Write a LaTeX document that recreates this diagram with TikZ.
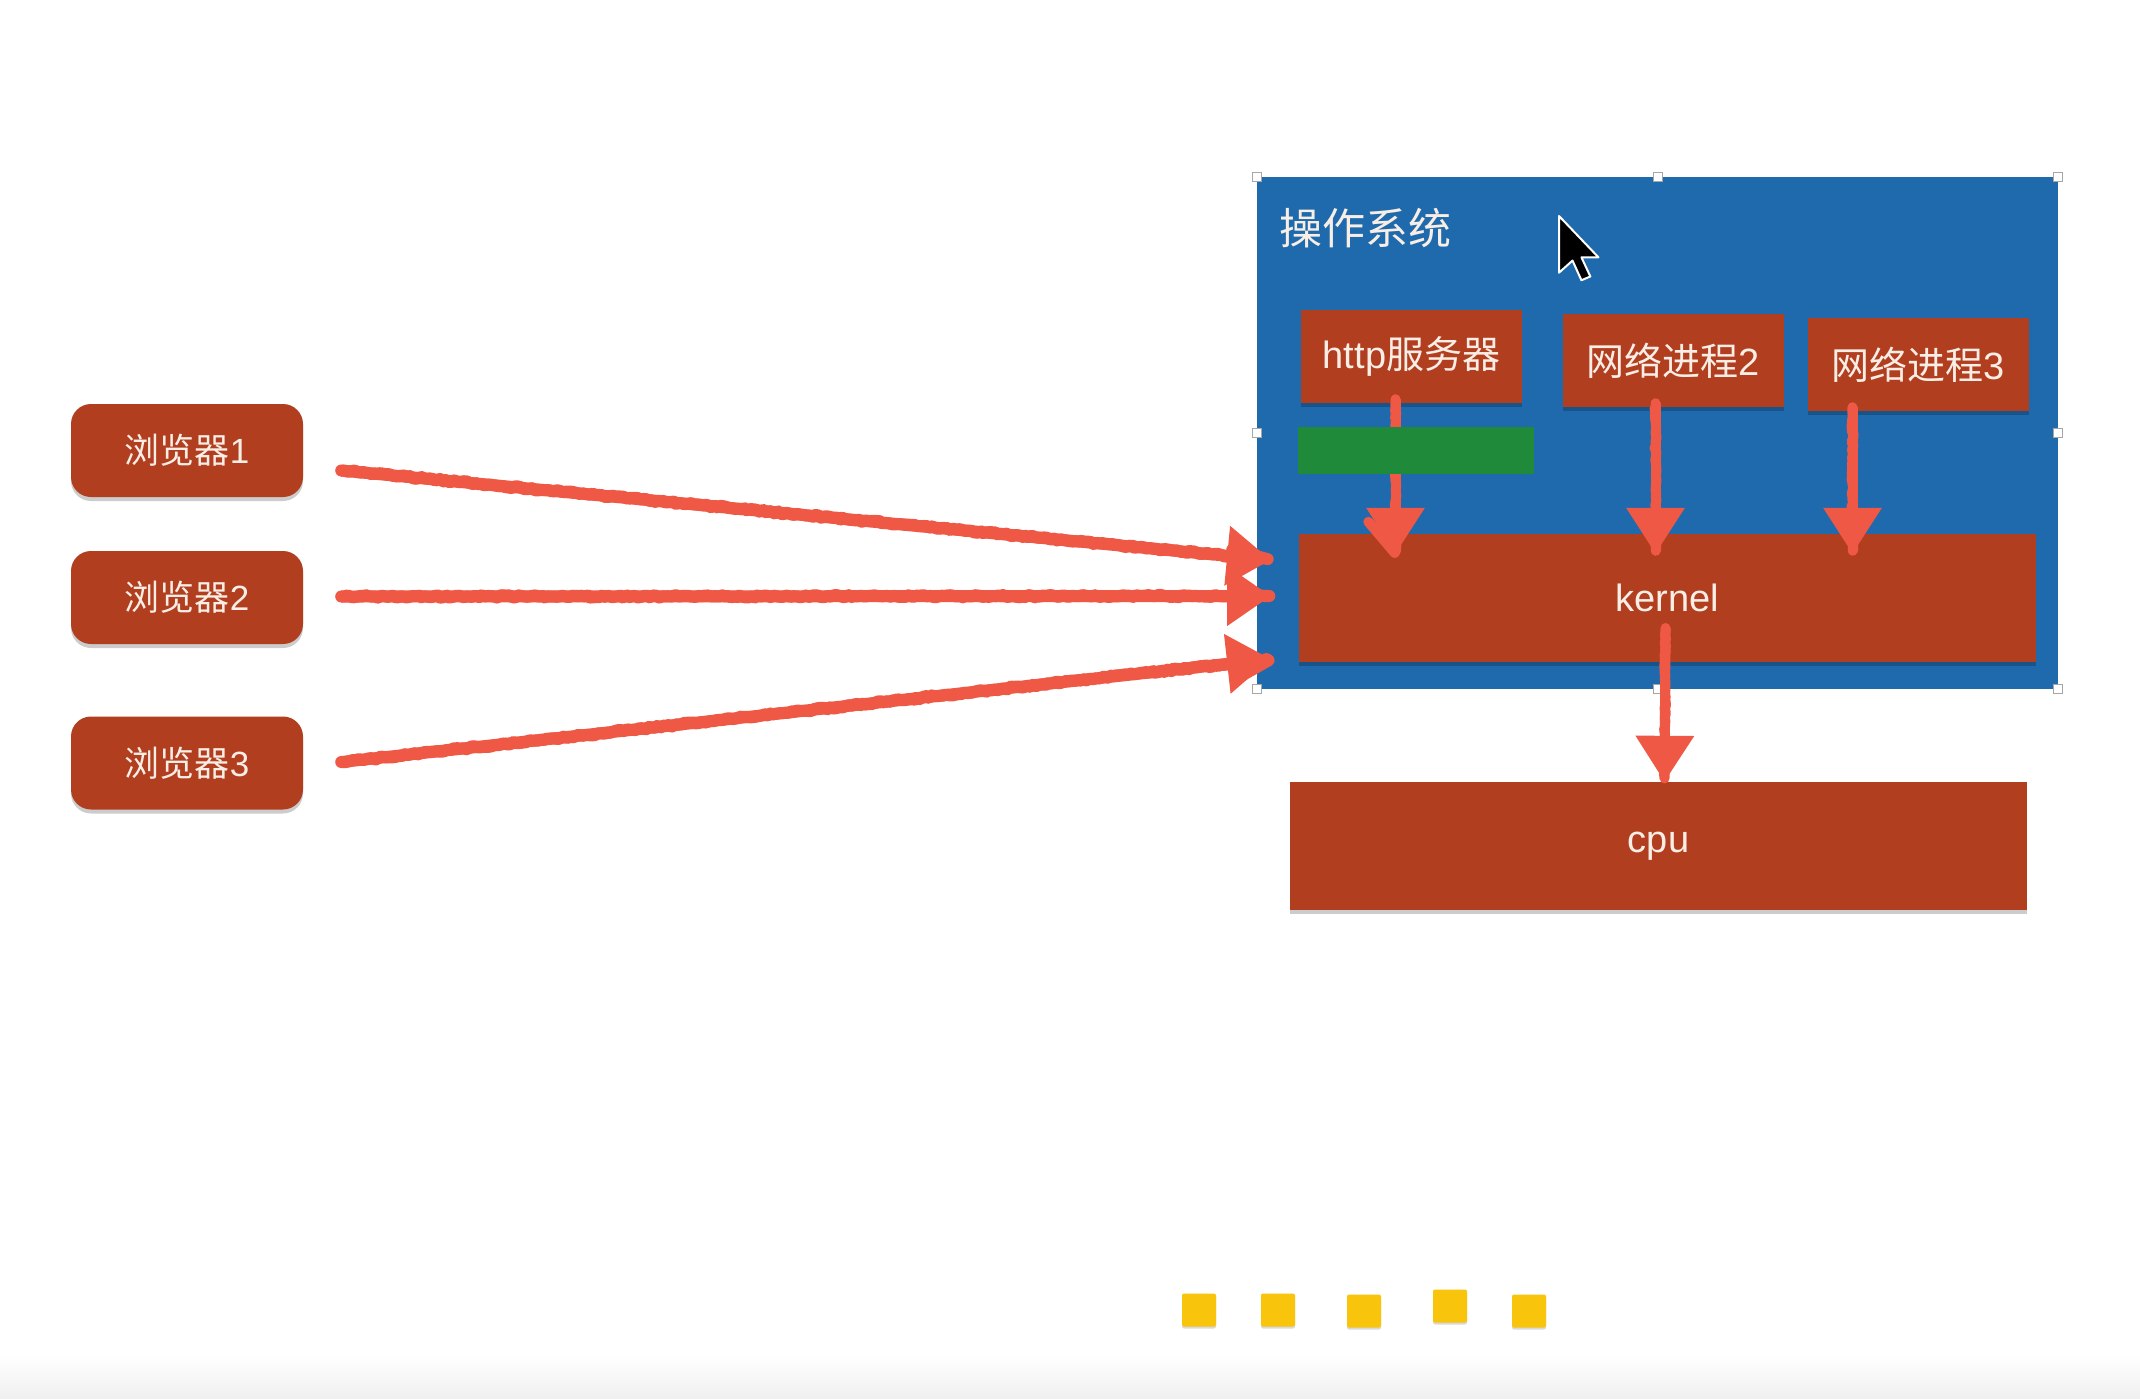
\documentclass[tikz,border=0pt]{standalone}
\usepackage{fontspec}
\setmainfont{Liberation Sans}
\newfontfamily\cjk{Noto Sans CJK SC}
\usetikzlibrary{arrows.meta,shadows,calc,decorations.pathmorphing}
\definecolor{boxred}{RGB}{178,62,32}
\definecolor{osblue}{RGB}{30,106,172}
\definecolor{bargreen}{RGB}{30,138,58}
\definecolor{arrowred}{RGB}{240,88,70}
\definecolor{sqyellow}{RGB}{248,196,12}
\definecolor{txtc}{RGB}{248,238,230}
\pgfmathsetseed{7}
\tikzset{
  softshadow/.style={drop shadow={shadow xshift=0pt,shadow yshift=-4pt,opacity=0.2,fill=black}},
  redbox/.style={fill=boxred,text=txtc,inner sep=0pt,minimum width=221pt,minimum height=93pt,
    font=\fontsize{38}{40}\selectfont,softshadow},
  browser/.style={redbox,rounded corners=20pt,minimum width=232pt,font=\fontsize{35}{38}\selectfont},
  widebox/.style={redbox,minimum width=737pt,minimum height=128pt},
  osbox/.style={fill=osblue,inner sep=0pt,minimum width=801pt,minimum height=512pt},
  greenbar/.style={fill=bargreen,inner sep=0pt,minimum width=236pt,minimum height=47pt},
  handle/.style={fill=white,draw=gray!70,line width=1pt,inner sep=0pt,minimum size=9pt},
  sq/.style={fill=sqyellow,rounded corners=2pt,inner sep=0pt,minimum width=34pt,minimum height=33pt,
    drop shadow={shadow xshift=0pt,shadow yshift=-2pt,opacity=0.15,fill=black}},
  crayon/.style={draw=arrowred,line width=12pt,-{Triangle[width=57pt,length=44pt]},
    postaction={draw=arrowred,-,line width=12pt,line join=round,line cap=round,shorten >=40pt,decorate,
      decoration={random steps,segment length=3pt,amplitude=1.2pt}}},
  crayonv/.style={draw=arrowred,line width=10pt,-{Triangle[width=56pt,length=46pt]},
    postaction={draw=arrowred,-,line width=10pt,line join=round,line cap=round,shorten >=42pt,decorate,
      decoration={random steps,segment length=3pt,amplitude=1pt}}},
}
\begin{document}
\begin{tikzpicture}[x=1pt,y=-1pt]
\useasboundingbox (0,0) rectangle (2140,1398);
\fill[white] (0,0) rectangle (2140,1398);
\shade[top color=white,bottom color=gray!12] (0,1355) rectangle (2140,1398);

% operating system box
\node[osbox] (os) at (1657.5,433) {};
\node[anchor=west,text=txtc,inner sep=0pt,font=\fontsize{43}{46}\selectfont\cjk] (title) at (1279,228) {操作系统};
\foreach \p [count=\i] in {(1257,177),(1657.5,177),(2058,177),(1257,433),(2058,433),(1257,689),(1657.5,689),(2058,689)}
  \node[handle] (h\i) at \p {};

% cursor
\begin{scope}[shift={(1559,216)},x=2.7pt,y=-2.7pt]
  \fill[black,draw=white,line width=2pt,line join=round]
    (0,0) -- (0,21) -- (5,16.5) -- (8.3,23.8) -- (11.6,22.4) -- (8.3,15.3) -- (14.6,15.3) -- cycle;
\end{scope}

% process boxes
\node[redbox] (http) at (1411.5,356.5) {\raisebox{-2pt}{http{\cjk 服务器}}};
\node[redbox] (net2) at (1673.5,360.5) {{\cjk 网络进程}2};
\node[redbox] (net3) at (1918.5,364.5) {{\cjk 网络进程}3};
\node[widebox] (kernel) at (1667.5,598) {kernel};
\node[widebox] (cpu) at (1658.5,846) {\raisebox{-7pt}{cpu}};

% browsers
\node[browser] (b1) at (187,450.5) {{\cjk 浏览器}1};
\node[browser] (b2) at (187,597.5) {{\cjk 浏览器}2};
\node[browser] (b3) at (187,763) {{\cjk 浏览器}3};

\coordinate (e1) at (1271,560);
\coordinate (e2) at (1271,596);
\coordinate (e3) at (1271,659);
\draw[crayon] ($(b1.east)+(38,20)$) -- (e1);
\draw[crayon] ($(b2.east)+(38,-1)$) -- (e2);
\draw[crayon] ($(b3.east)+(38,-1)$) -- (e3);

% down arrows
\draw[crayonv] ($(http.south)+(-16,-4)$) -- ($(kernel.north)+(-272,20)$);
\draw[crayonv] ($(net2.south)+(-18,-4)$) -- ($(kernel.north)+(-12,20)$);
\draw[crayonv] ($(net3.south)+(-66,-4)$) -- ($(kernel.north)+(185,20)$);
\draw[crayonv] ($(kernel.center)+(-2,30)$) -- ($(cpu.north)+(6,0)$);

% buffer bar
\node[greenbar] (buf) at (1416,450.5) {};

% yellow squares
\node[sq] (s1) at (1199,1310) {};
\node[sq] (s2) at (1278,1310) {};
\node[sq] (s3) at (1364,1311) {};
\node[sq] (s4) at (1450,1306) {};
\node[sq] (s5) at (1529,1311) {};
\end{tikzpicture}
\end{document}
